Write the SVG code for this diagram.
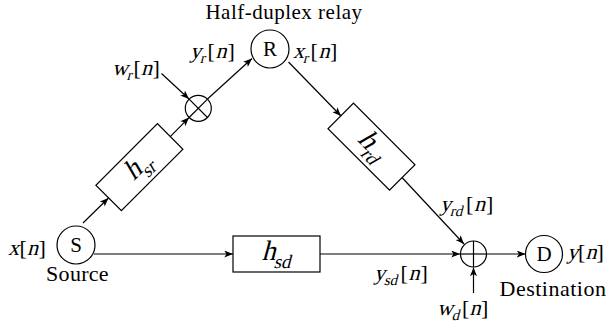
<svg xmlns="http://www.w3.org/2000/svg" width="608" height="331" viewBox="0 0 608 331">
<style>
.ln{stroke:#000;stroke-width:1.2;fill:none}
.arr{marker-end:url(#ah)}
.nd{fill:#fff;stroke:#000;stroke-width:1.2}
.t{font-family:"Liberation Serif","Times New Roman",serif;font-size:21px;fill:#000}
.m{font-family:"Liberation Serif","Times New Roman",serif;font-size:22px;fill:#000}
.s{font-size:15px}
.h{font-family:"Liberation Serif","Times New Roman",serif;font-size:28px;fill:#000}
.hs{font-size:19px}
</style>
<defs>
<marker id="ah" viewBox="0 0 10 8" refX="10" refY="4" markerWidth="9" markerHeight="7" markerUnits="userSpaceOnUse" orient="auto">
<path d="M0,0 L10,4 L0,8 L2.5,4 z" fill="#000"/>
</marker>
</defs>
<g id="connectors">
<line class="ln arr" x1="94" y1="254" x2="233" y2="254"/>
<line class="ln arr" x1="83" y1="223" x2="108.5" y2="198"/>
<line class="ln arr" x1="170" y1="136.8" x2="189" y2="117.6"/>
<line class="ln arr" x1="161.5" y1="73.5" x2="189" y2="99"/>
<line class="ln arr" x1="207.5" y1="99" x2="252" y2="58.5"/>
<line class="ln arr" x1="288.5" y1="62" x2="341" y2="116"/>
<line class="ln arr" x1="402" y1="177.5" x2="464" y2="244"/>
<line class="ln arr" x1="320" y1="254" x2="460" y2="254"/>
<line class="ln arr" x1="487" y1="254" x2="525.5" y2="254"/>
<line class="ln arr" x1="473.5" y1="293" x2="473.5" y2="267.5"/>
</g>
<g id="S">
<circle class="nd" cx="76" cy="245" r="19"/>
<text class="t" x="76" y="252" text-anchor="middle">S</text>
<text class="t" x="77.5" y="281" text-anchor="middle" style="font-size:22px;letter-spacing:0.3px">Source</text>
</g>
<g id="R">
<circle class="nd" cx="270" cy="49" r="19"/>
<text class="t" x="270" y="56" text-anchor="middle">R</text>
<text class="t" x="284" y="19" text-anchor="middle" style="letter-spacing:0.5px">Half-duplex relay</text>
</g>
<g id="D">
<circle class="nd" cx="544" cy="254" r="18.5"/>
<text class="t" x="544" y="261" text-anchor="middle">D</text>
<text class="t" x="553" y="296" text-anchor="middle" style="font-size:22px;letter-spacing:0.5px">Destination</text>
</g>
<g id="mult">
<circle class="nd" cx="198.3" cy="108.3" r="13"/>
<line class="ln" x1="189.1" y1="99.1" x2="207.5" y2="117.5"/>
<line class="ln" x1="189.1" y1="117.5" x2="207.5" y2="99.1"/>
</g>
<g id="add">
<circle class="nd" cx="473.5" cy="254" r="13"/>
<line class="ln" x1="460.5" y1="254" x2="486.5" y2="254"/>
<line class="ln" x1="473.5" y1="241" x2="473.5" y2="267"/>
</g>
<g id="hsd">
<rect class="nd" x="233" y="236" width="87" height="36"/>
<text class="h" transform="translate(277,260) skewX(-15)" text-anchor="middle">h<tspan class="hs" dy="8">sd</tspan></text>
</g>
<g id="hsr" transform="translate(139.4,167.2) rotate(-45)">
<rect class="nd" x="-43.5" y="-18" width="87" height="36"/>
<text class="h" transform="translate(0,6) skewX(-15)" text-anchor="middle">h<tspan class="hs" dy="8">sr</tspan></text>
</g>
<g id="hrd" transform="translate(371.5,146.7) rotate(45)">
<rect class="nd" x="-43.5" y="-18" width="87" height="36"/>
<text class="h" transform="translate(0,6) skewX(-15)" text-anchor="middle">h<tspan class="hs" dy="8">rd</tspan></text>
</g>
<g id="labels">
<g id="lbl-x">
<text class="m" transform="translate(8,255) skewX(-15)">x</text>
<text class="m" x="19.5" y="255">[</text>
<text class="m" transform="translate(27,255) skewX(-15)">n</text>
<text class="m" x="38.5" y="255">]</text>
</g>
<g id="lbl-wr">
<text class="m" transform="translate(112,75) skewX(-15)">w<tspan class="s" dy="5">r</tspan></text>
<text class="m" x="133.5" y="75">[</text>
<text class="m" transform="translate(141,75) skewX(-15)">n</text>
<text class="m" x="152.5" y="75">]</text>
</g>
<g id="lbl-yr">
<text class="m" transform="translate(190,58) skewX(-15)">y<tspan class="s" dy="5">r</tspan></text>
<text class="m" x="207.5" y="58">[</text>
<text class="m" transform="translate(215.5,58) skewX(-15)">n</text>
<text class="m" x="227.5" y="58">]</text>
</g>
<g id="lbl-xr">
<text class="m" transform="translate(293,58) skewX(-15)">x<tspan class="s" dy="5">r</tspan></text>
<text class="m" x="310.5" y="58">[</text>
<text class="m" transform="translate(318.5,58) skewX(-15)">n</text>
<text class="m" x="330" y="58">]</text>
</g>
<g id="lbl-yrd">
<text class="m" transform="translate(440,211) skewX(-15)">y<tspan class="s" dy="5">rd</tspan></text>
<text class="m" x="466" y="211">[</text>
<text class="m" transform="translate(474,211) skewX(-15)">n</text>
<text class="m" x="486" y="211">]</text>
</g>
<g id="lbl-ysd">
<text class="m" transform="translate(374,280) skewX(-15)">y<tspan class="s" dy="5">sd</tspan></text>
<text class="m" x="400.5" y="280">[</text>
<text class="m" transform="translate(408.5,280) skewX(-15)">n</text>
<text class="m" x="420.5" y="280">]</text>
</g>
<g id="lbl-wd">
<text class="m" transform="translate(437,315) skewX(-15)">w<tspan class="s" dy="5">d</tspan></text>
<text class="m" x="462" y="315">[</text>
<text class="m" transform="translate(469.5,315) skewX(-15)">n</text>
<text class="m" x="481" y="315">]</text>
</g>
<g id="lbl-y">
<text class="m" transform="translate(567,259) skewX(-15)">y</text>
<text class="m" x="578" y="259">[</text>
<text class="m" transform="translate(585.5,259) skewX(-15)">n</text>
<text class="m" x="596.5" y="259">]</text>
</g>
</g>
</svg>
